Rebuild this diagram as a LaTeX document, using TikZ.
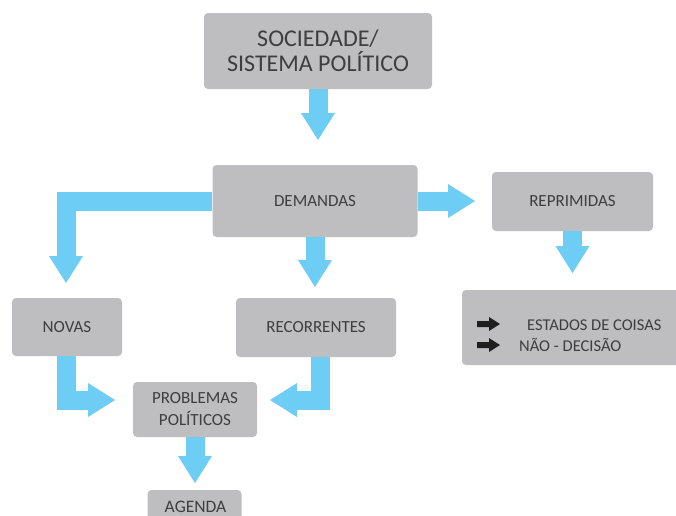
\documentclass[tikz,border=0pt]{standalone}
\usepackage{fontspec}
\setmainfont{Carlito}
\usetikzlibrary{arrows.meta}
\definecolor{boxgray}{RGB}{190,190,193}
\definecolor{flowblue}{RGB}{110,205,245}
\definecolor{txtgray}{RGB}{62,62,64}
\begin{document}
\begin{tikzpicture}[x=1pt,y=-1pt,
  box/.style={fill=boxgray, rounded corners=4pt, inner sep=0pt, text=txtgray,
    align=center, font=\fontsize{17}{22}\selectfont},
  flow/.style={draw=flowblue, line width=19pt, line join=miter,
    -{Triangle[length=27pt,width=34pt,line width=0pt]}},
  plain/.style={inner sep=0pt, text=txtgray, font=\fontsize{16.5}{20}\selectfont},
  icon/.style={fill=black!88}
]
\clip (0,0) rectangle (676,515);
\fill[white] (0,0) rectangle (676,515);

% boxes
\node[box, minimum width=228pt, minimum height=76pt,
      font=\fontsize{24}{25}\selectfont] (soc) at (318,51)
      {SOCIEDADE/\\SISTEMA POLÍTICO};
\node[box, minimum width=205pt, minimum height=72pt] (dem) at (315,201) {DEMANDAS};
\node[box, minimum width=161pt, minimum height=59pt] (rep) at (572.5,201.5) {REPRIMIDAS};
\node[box, minimum width=110pt, minimum height=58pt] (nov) at (67,327) {NOVAS};
\node[box, minimum width=160pt, minimum height=59pt] (rec) at (316,327.5) {RECORRENTES};
\node[box, minimum width=220pt, minimum height=75pt] (est) at (572,327.5) {};
\node[box, minimum width=124pt, minimum height=55pt] (pro) at (195,409.5) {PROBLEMAS\\POLÍTICOS};
\node[box, minimum width=94pt, minimum height=40pt] (age) at (194.5,510) {};
\node[plain, font=\fontsize{17.5}{20}\selectfont, anchor=base] (agetxt) at (195.5,512) {AGENDA};

% texts in the right box
\fill[icon] (477,321) -- (489,321) -- (489,317) -- (500,324) -- (489,331) -- (489,327) -- (477,327) -- cycle;
\fill[icon] (477,342) -- (489,342) -- (489,338) -- (500,345) -- (489,352) -- (489,348) -- (477,348) -- cycle;
\node[plain, anchor=base west] (e1) at (527,330) {ESTADOS DE COISAS};
\node[plain, anchor=base west] (e2) at (519,351) {NÃO - DECISÃO};

% arrow tips
\coordinate (t1) at (318,140);
\coordinate (t2) at (66,283);
\coordinate (t3) at (315,287);
\coordinate (t4) at (475,201);
\coordinate (t5) at (572.5,273);
\coordinate (t6) at (115,400);
\coordinate (t7) at (270,400);
\coordinate (t8) at (195,483);

% connectors
\draw[flow] (soc.south) -- (t1);
\draw[flow] (dem.west) -| (t2);
\draw[flow] (dem.south) -- (t3);
\draw[flow] (dem.east) -- (t4);
\draw[flow] (rep.south) -- (t5);
\draw[flow] ([xshift=-1pt]nov.south) |- (t6);
\draw[flow] ([xshift=4pt]rec.south) |- (t7);
\draw[flow] (pro.south) -- (t8);
\end{tikzpicture}
\end{document}
